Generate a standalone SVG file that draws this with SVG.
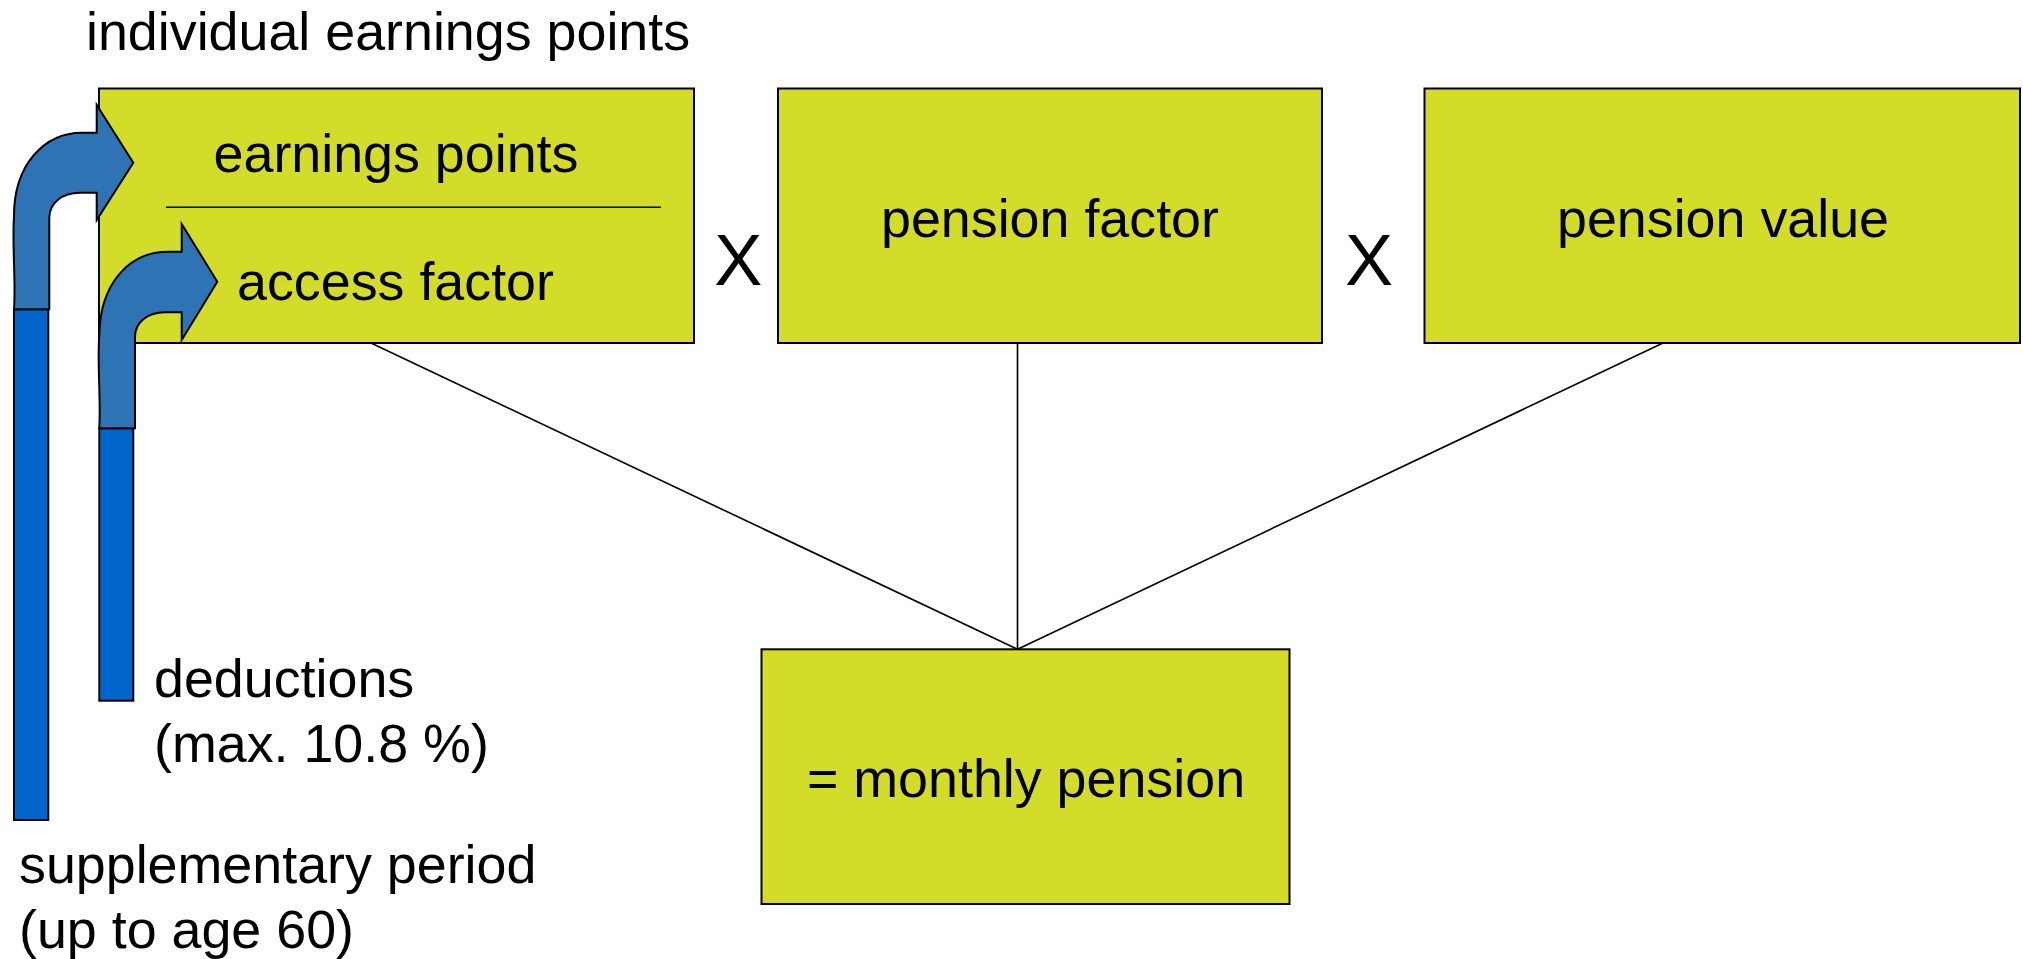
<svg xmlns="http://www.w3.org/2000/svg" width="2023" height="959" viewBox="0 0 2023 959">
<style>
.box{fill:#D4DC2A;stroke:#000;stroke-width:2}
.conn{stroke:#000;stroke-width:1.6;fill:none}
.arrow{fill:#2E74B5;stroke:#000;stroke-width:2;stroke-linejoin:miter}
.bar{fill:#0066CC;stroke:#000;stroke-width:2}
text{font-family:"Liberation Sans",Arial,sans-serif;font-size:53.8px;fill:#000}
.mid{text-anchor:middle}
.x{font-size:72px}
</style>
<rect width="2023" height="959" fill="#fff"/>
<text x="86" y="50">individual earnings points</text>
<g id="node-earnings">
<rect class="box" x="99" y="88.5" width="595" height="254.5"/>
<line class="conn" x1="166" y1="207.3" x2="661" y2="207.3"/>
<text class="mid" x="396" y="171.7">earnings points</text>
<text x="237" y="300">access factor</text>
</g>
<g id="node-pension-factor">
<rect class="box" x="778" y="88.5" width="544" height="254.5"/>
<text class="mid" x="1050" y="237.3">pension factor</text>
</g>
<g id="node-pension-value">
<rect class="box" x="1424.5" y="88.5" width="595.5" height="254.5"/>
<text class="mid" x="1723" y="237.3">pension value</text>
</g>
<g id="node-monthly-pension">
<rect class="box" x="761.5" y="649.3" width="528" height="254.7"/>
<text class="mid" x="1026" y="797.3">= monthly pension</text>
</g>
<g id="operators">
<text class="mid x" x="738.3" y="285">X</text>
<text class="mid x" x="1369" y="285">X</text>
</g>
<g id="connectors">
<line class="conn" x1="371" y1="343" x2="1017.5" y2="649.3"/>
<line class="conn" x1="1017.5" y1="343" x2="1017.5" y2="649.3"/>
<line class="conn" x1="1663" y1="343" x2="1017.5" y2="649.3"/>
</g>
<g id="node-supplementary">
<rect class="bar" x="14" y="309.3" width="34.3" height="510.7"/>
<path class="arrow" d="M14,309.3 C16,280 12,245 14,216 C14,165 44,132.7 82,132.7 L96.7,132.7 L96.7,105 L133.3,162.7 L96.7,220 L96.7,192.7 L80,192.7 C62,192.7 49.3,203 49.3,218 L49.3,309.3 Z"/>
<text x="19" y="882.7">supplementary period</text>
<text x="19" y="948.3">(up to age 60)</text>
</g>
<g id="node-deductions">
<rect class="bar" x="99.3" y="428.3" width="34" height="272.4"/>
<path class="arrow" d="M99.3,428.3 C101,395 97,365 99.3,335 C100,285 128,251.7 168,251.7 L181.7,251.7 L181.7,224 L217.3,281.7 L181.7,340 L181.7,312.3 L165,312.3 C148,312.3 135,322 135,337 L135,428.3 Z"/>
<text x="154" y="697.3">deductions</text>
<text x="154" y="761.7">(max. 10.8 %)</text>
</g>
</svg>
